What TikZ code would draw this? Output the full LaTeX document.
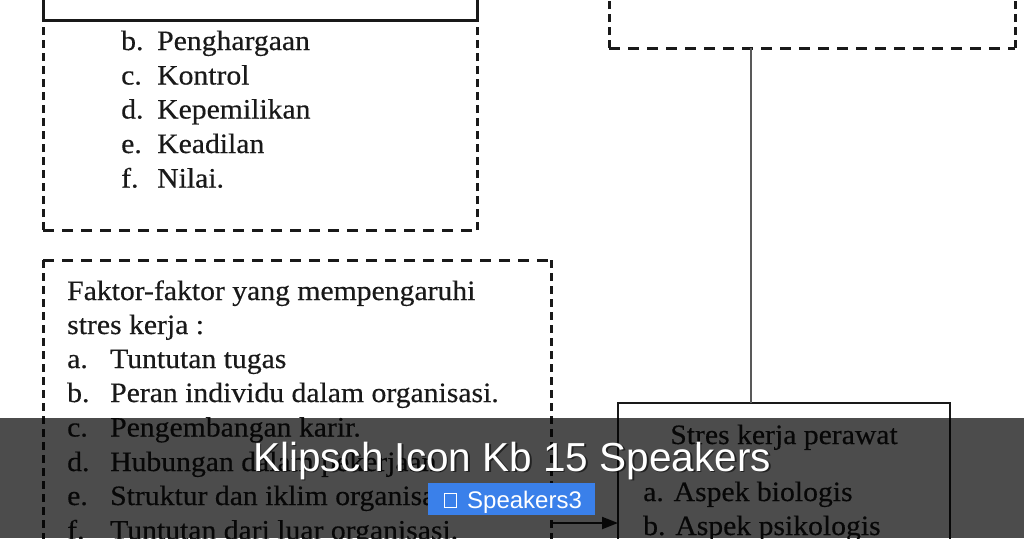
\documentclass[tikz,border=0pt]{standalone}
\usepackage{fontspec}
\setmainfont{Liberation Serif}
\newfontfamily\serifF[FakeStretch=1.06,FakeBold=0.4]{Liberation Serif}
\newfontfamily\sansF{Liberation Sans}
\usetikzlibrary{arrows.meta}
\definecolor{ink}{gray}{0.1}
\definecolor{tagblue}{RGB}{58,128,234}
\begin{document}
\begin{tikzpicture}[x=1pt,y=-1pt,
  frame/.style={draw=none, inner sep=0pt, outer sep=0pt},
  hd/.style={line width=3pt, dash pattern=on 11pt off 8pt, draw=ink},
  vd/.style={line width=3pt, dash pattern=on 8pt off 5pt, draw=ink},
  solidbox/.style={draw=ink, inner sep=0pt, outer sep=0pt},
  txt/.style={inner sep=0pt, anchor=base west, text=ink, font=\serifF\fontsize{28}{34}\selectfont},
  ctxt/.style={txt, anchor=base},
  conn/.style={draw=black!65, line width=2pt},
  arr/.style={draw=ink, line width=2pt, -{Triangle[length=16pt,width=12pt]}},
  band/.style={fill=black, opacity=0.7},
  title/.style={inner sep=0pt, anchor=base, text=white, font=\sansF\fontsize{40.5}{40.5}\selectfont},
  shadow/.style={title, text=black, opacity=0.55},
  tagtxt/.style={inner sep=0pt, anchor=base west, text=white, font=\sansF\fontsize{24}{24}\selectfont}
]
\useasboundingbox (0,0) rectangle (1024,538);
\clip (0,0) rectangle (1024,538);
\fill[white] (0,0) rectangle (1024,538);

% ---- top-left dashed box with solid header
\node[frame, minimum width=434pt, minimum height=280pt, anchor=south west] (tl) at (43,230) {};
\draw[hd] (tl.south west) -- (tl.south east);
\draw[vd] (tl.south west) -- (tl.north west);
\draw[vd] (tl.south east) -- (tl.north east);
\node[solidbox, line width=3pt, minimum width=434pt, minimum height=60pt, anchor=south west] (hdr) at (43,20) {};

\node[txt] (l1) at (121,50) {b.};   \node[txt] (t1) at (157,50) {Penghargaan};
\node[txt] (l2) at (121,84.5) {c.}; \node[txt] (t2) at (157,84.5) {Kontrol};
\node[txt] (l3) at (121,118.5) {d.};\node[txt] (t3) at (157,118.5) {Kepemilikan};
\node[txt] (l4) at (121,153) {e.};  \node[txt] (t4) at (157,153) {Keadilan};
\node[txt] (l5) at (121,187.5) {f.};\node[txt] (t5) at (157,187.5) {Nilai.};

% ---- top-right dashed box
\node[frame, minimum width=406pt, minimum height=100pt, anchor=south west] (tr) at (609,48) {};
\draw[hd] (tr.south west) -- (tr.south east);
\draw[vd] (tr.south west) -- (tr.north west);
\draw[vd] (tr.south east) -- (tr.north east);

% ---- factors box
\node[frame, minimum width=508pt, minimum height=320pt, anchor=north west] (fk) at (43,260) {};
\draw[hd] (fk.north west) -- (fk.north east);
\draw[vd] (fk.north west) -- (fk.south west);
\draw[vd] (fk.north east) -- (fk.south east);

\node[txt] (f0) at (67,300) {Faktor-faktor yang mempengaruhi};
\node[txt] (f00) at (67,334) {stres kerja :};
\node[txt] (fa) at (67,368) {a.}; \node[txt] (fat) at (110,368) {Tuntutan tugas};
\node[txt] (fb) at (67,402) {b.}; \node[txt] (fbt) at (110,402) {Peran individu dalam organisasi.};
\node[txt] (fc) at (67,436.5) {c.}; \node[txt] (fct) at (110,436.5) {Pengembangan karir.};
\node[txt] (fd) at (67,471) {d.}; \node[txt] (fdt) at (110,471) {Hubungan dalam pekerjaan.};
\node[txt] (fe) at (67,505) {e.}; \node[txt] (fet) at (110,505) {Struktur dan iklim organisasi.};
\node[txt] (ff) at (67,539.5) {f.}; \node[txt] (fft) at (110,539.5) {Tuntutan dari luar organisasi.};

% ---- stress box
\node[solidbox, line width=2.5pt, minimum width=332pt, minimum height=200pt, anchor=north west] (st) at (618,403) {};
\node[ctxt] (s0) at (784,444) {Stres kerja perawat};
\node[txt] (s1) at (643,501) {a. Aspek biologis};
\node[txt] (s2) at (643,535) {b. Aspek psikologis};

% ---- connectors
\coordinate (v) at (751,48);
\draw[conn] (v) -- (v |- st.north);
\coordinate (ay) at (0,523);
\draw[arr] (fk.east |- ay) -- (st.west |- ay);

% ---- overlay banner
\fill[band] (0,418) rectangle (1024,538);
\node[shadow] at (513.5,472.5) {Klipsch Icon Kb 15 Speakers};
\node[title] (ttl) at (512,471) {Klipsch Icon Kb 15 Speakers};
\node[fill=tagblue, inner sep=0pt, minimum width=167pt, minimum height=32pt, anchor=north west] (tag) at (428,483) {};
\node[draw=white, line width=1pt, inner sep=0pt, minimum width=12pt, minimum height=14pt, anchor=south west] (gl) at (444,508) {};
\node[tagtxt] (tagt) at (467,508) {Speakers3};
\end{tikzpicture}
\end{document}
